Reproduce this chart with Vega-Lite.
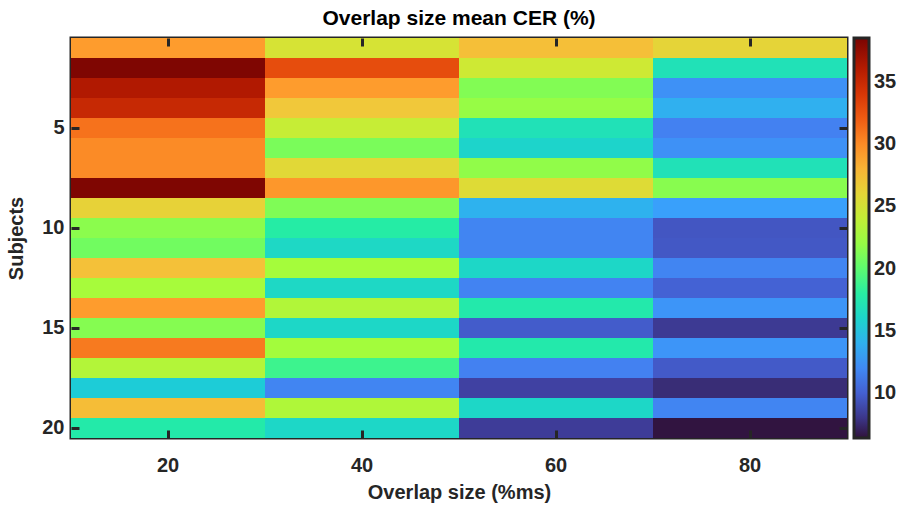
{
  "$schema": "https://vega.github.io/schema/vega-lite/v6.json",
  "width": 776,
  "height": 400,
  "autosize": {"type": "none"},
  "padding": {"left": 71, "top": 38, "right": 57, "bottom": 68},
  "background": "white",
  "title": {
    "text": "Overlap size mean CER (%)",
    "font": "Liberation Sans",
    "fontSize": 21,
    "fontWeight": "bold",
    "color": "#000000",
    "anchor": "middle",
    "offset": 8
  },
  "config": {
    "view": {"stroke": "#262626", "strokeWidth": 3},
    "axis": {
      "domain": false,
      "grid": false,
      "labelFont": "Liberation Sans",
      "labelFontWeight": "bold",
      "labelFontSize": 20,
      "labelColor": "#262626",
      "titleFont": "Liberation Sans",
      "titleFontWeight": "bold",
      "titleFontSize": 20,
      "titleColor": "#262626",
      "tickColor": "#262626",
      "tickWidth": 3,
      "tickSize": -8,
      "labelAngle": 0
    }
  },
  "data": {
    "values": [
      {"subject": 1, "overlap": 20, "cer": 29.3}, {"subject": 2, "overlap": 20, "cer": 38.3},
      {"subject": 3, "overlap": 20, "cer": 36.2}, {"subject": 4, "overlap": 20, "cer": 35.0},
      {"subject": 5, "overlap": 20, "cer": 31.0}, {"subject": 6, "overlap": 20, "cer": 30.0},
      {"subject": 7, "overlap": 20, "cer": 30.0}, {"subject": 8, "overlap": 20, "cer": 38.3},
      {"subject": 9, "overlap": 20, "cer": 26.2}, {"subject": 10, "overlap": 20, "cer": 21.6},
      {"subject": 11, "overlap": 20, "cer": 20.7}, {"subject": 12, "overlap": 20, "cer": 27.3},
      {"subject": 13, "overlap": 20, "cer": 22.6}, {"subject": 14, "overlap": 20, "cer": 29.3},
      {"subject": 15, "overlap": 20, "cer": 21.4}, {"subject": 16, "overlap": 20, "cer": 30.7},
      {"subject": 17, "overlap": 20, "cer": 23.2}, {"subject": 18, "overlap": 20, "cer": 15.4},
      {"subject": 19, "overlap": 20, "cer": 27.5}, {"subject": 20, "overlap": 20, "cer": 17.7},
      {"subject": 1, "overlap": 40, "cer": 25.1}, {"subject": 2, "overlap": 40, "cer": 32.8},
      {"subject": 3, "overlap": 40, "cer": 29.3}, {"subject": 4, "overlap": 40, "cer": 26.9},
      {"subject": 5, "overlap": 40, "cer": 24.2}, {"subject": 6, "overlap": 40, "cer": 21.0},
      {"subject": 7, "overlap": 40, "cer": 25.8}, {"subject": 8, "overlap": 40, "cer": 29.5},
      {"subject": 9, "overlap": 40, "cer": 21.2}, {"subject": 10, "overlap": 40, "cer": 17.9},
      {"subject": 11, "overlap": 40, "cer": 16.3}, {"subject": 12, "overlap": 40, "cer": 22.5},
      {"subject": 13, "overlap": 40, "cer": 16.3}, {"subject": 14, "overlap": 40, "cer": 23.1},
      {"subject": 15, "overlap": 40, "cer": 16.2}, {"subject": 16, "overlap": 40, "cer": 22.4},
      {"subject": 17, "overlap": 40, "cer": 18.8}, {"subject": 18, "overlap": 40, "cer": 11.8},
      {"subject": 19, "overlap": 40, "cer": 23.0}, {"subject": 20, "overlap": 40, "cer": 16.2},
      {"subject": 1, "overlap": 60, "cer": 27.4}, {"subject": 2, "overlap": 60, "cer": 24.6},
      {"subject": 3, "overlap": 60, "cer": 21.3}, {"subject": 4, "overlap": 60, "cer": 22.0},
      {"subject": 5, "overlap": 60, "cer": 17.0}, {"subject": 6, "overlap": 60, "cer": 16.0},
      {"subject": 7, "overlap": 60, "cer": 21.8}, {"subject": 8, "overlap": 60, "cer": 25.6},
      {"subject": 9, "overlap": 60, "cer": 14.1}, {"subject": 10, "overlap": 60, "cer": 11.8},
      {"subject": 11, "overlap": 60, "cer": 11.8}, {"subject": 12, "overlap": 60, "cer": 16.2},
      {"subject": 13, "overlap": 60, "cer": 11.7}, {"subject": 14, "overlap": 60, "cer": 17.6},
      {"subject": 15, "overlap": 60, "cer": 9.8}, {"subject": 16, "overlap": 60, "cer": 17.6},
      {"subject": 17, "overlap": 60, "cer": 11.6}, {"subject": 18, "overlap": 60, "cer": 8.5},
      {"subject": 19, "overlap": 60, "cer": 16.2}, {"subject": 20, "overlap": 60, "cer": 8.3},
      {"subject": 1, "overlap": 80, "cer": 26.1}, {"subject": 2, "overlap": 80, "cer": 17.0},
      {"subject": 3, "overlap": 80, "cer": 12.4}, {"subject": 4, "overlap": 80, "cer": 14.0},
      {"subject": 5, "overlap": 80, "cer": 11.6}, {"subject": 6, "overlap": 80, "cer": 12.4},
      {"subject": 7, "overlap": 80, "cer": 17.0}, {"subject": 8, "overlap": 80, "cer": 21.5},
      {"subject": 9, "overlap": 80, "cer": 13.2}, {"subject": 10, "overlap": 80, "cer": 9.5},
      {"subject": 11, "overlap": 80, "cer": 9.6}, {"subject": 12, "overlap": 80, "cer": 11.8},
      {"subject": 13, "overlap": 80, "cer": 10.1}, {"subject": 14, "overlap": 80, "cer": 12.6},
      {"subject": 15, "overlap": 80, "cer": 8.2}, {"subject": 16, "overlap": 80, "cer": 12.6},
      {"subject": 17, "overlap": 80, "cer": 9.7}, {"subject": 18, "overlap": 80, "cer": 7.6},
      {"subject": 19, "overlap": 80, "cer": 11.8}, {"subject": 20, "overlap": 80, "cer": 6.5}
    ]
  },
  "layer": [
    {
      "mark": {"type": "rect"},
      "encoding": {
        "x": {
          "field": "overlap", "type": "ordinal",
          "scale": {"paddingInner": 0, "paddingOuter": 0},
          "axis": {"title": "Overlap size (%ms)", "orient": "bottom", "labelPadding": 25, "titleY": 64, "titleBaseline": "bottom"}
        },
        "y": {
          "field": "subject", "type": "ordinal",
          "scale": {"paddingInner": 0, "paddingOuter": 0},
          "axis": {"title": "Subjects", "orient": "left", "values": [5, 10, 15, 20], "labelPadding": 15, "titleX": -45, "titleBaseline": "bottom"}
        },
        "color": {
          "field": "cer", "type": "quantitative",
          "scale": {"domain": [6.4, 38.5], "interpolate": "rgb", "range": ["#30123b", "#4145ab", "#4675ed", "#39a2fc", "#1bcfd4", "#24eca6", "#61fc6c", "#a4fc3b", "#d1e834", "#f3c63a", "#fe9b2d", "#f36315", "#d93806", "#b11901", "#7a0402"]},
          "legend": {
            "type": "gradient",
            "title": null,
            "orient": "right",
            "offset": 5,
            "padding": 0,
            "gradientLength": 400,
            "gradientThickness": 15,
            "gradientStrokeColor": "#262626",
            "gradientStrokeWidth": 3,
            "values": [10, 15, 20, 25, 30, 35],
            "labelFont": "Liberation Sans",
            "labelFontWeight": "bold",
            "labelFontSize": 20,
            "labelColor": "#262626",
            "labelOffset": 5,
            "labelOverlap": false
          }
        }
      }
    },
    {
      "mark": {"type": "rect", "opacity": 0},
      "encoding": {
        "x": {
          "field": "overlap", "type": "ordinal",
          "axis": {"title": null, "orient": "top", "labels": false}
        },
        "y": {
          "field": "subject", "type": "ordinal",
          "axis": {"title": null, "orient": "right", "labels": false, "values": [5, 10, 15, 20]}
        }
      }
    }
  ],
  "resolve": {"axis": {"x": "independent", "y": "independent"}}
}
